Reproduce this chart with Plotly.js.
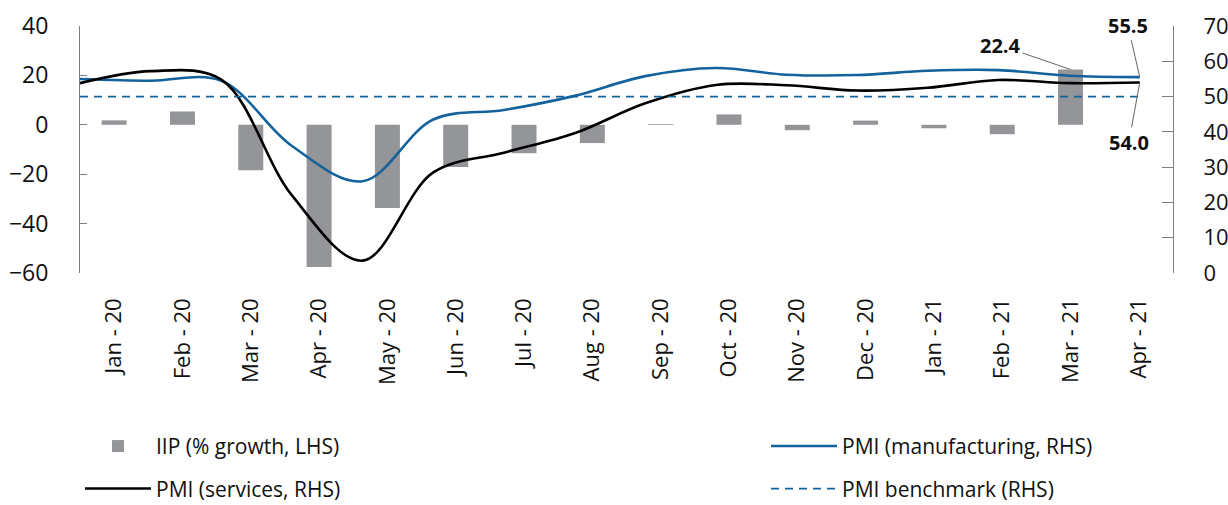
<!DOCTYPE html>
<html>
<head>
<meta charset="utf-8">
<script src="https://cdn.plot.ly/plotly-3.0.1.min.js"></script>
<style>
html,body{margin:0;padding:0;background:#fff;}
#chart{width:1228px;height:505px;}
</style>
</head>
<body>
<div id="chart"></div>
<script>
// Month categories
const months = ['Jan - 20','Feb - 20','Mar - 20','Apr - 20','May - 20','Jun - 20','Jul - 20','Aug - 20',
                'Sep - 20','Oct - 20','Nov - 20','Dec - 20','Jan - 21','Feb - 21','Mar - 21','Apr - 21'];
// IIP % growth (LHS)
const iipGrowth = [1.8, 5.4, -18.4, -57.6, -33.7, -17.1, -11.5, -7.4, 0.3, 4.2, -2.2, 1.7, -1.4, -3.8, 22.4, null];
// PMI manufacturing (RHS)
const pmiManufacturing = [55.0, 54.5, 54.5, 36.0, 26.0, 43.5, 46.2, 50.2, 55.8, 58.1, 56.2, 56.1, 57.3, 57.5, 55.9, 55.5];
// PMI services (RHS)
const pmiServices = [53.8, 57.2, 54.8, 22.0, 3.5, 28.5, 34.1, 39.6, 48.1, 53.3, 53.2, 51.7, 52.5, 54.7, 53.8, 54.0];
// PMI benchmark (RHS)
const pmiBenchmark = [50, 50, 50, 50, 50, 50, 50, 50, 50, 50, 50, 50, 50, 50, 50, 50];
// Axis ticks
const leftTicks = [-60, -40, -20, 0, 20, 40];
const rightTicks = [0, 10, 20, 30, 40, 50, 60, 70];

const FONT = 'Open Sans, Noto Sans, sans-serif';
const BLUE = '#13629b';
const GREY_BAR = '#939598';
const AXIS = '#7f7f7f';
const TXT = '#111111';

const traces = [
  {type:'bar', x: months, y: iipGrowth, name:'IIP (% growth, LHS)', marker:{color:GREY_BAR},
   xaxis:'x', yaxis:'y', legend:'legend', legendwidth:605},
  {type:'scatter', mode:'lines', x: months, y: pmiManufacturing, name:'PMI (manufacturing, RHS)',
   line:{color:BLUE, width:2.6, shape:'spline', smoothing:1}, xaxis:'x2', yaxis:'y2', legend:'legend', legendwidth:300},
  {type:'scatter', mode:'lines', x: months, y: pmiServices, name:'PMI (services, RHS)',
   line:{color:'#000000', width:2.6, shape:'spline', smoothing:1}, xaxis:'x2', yaxis:'y2', legend:'legend2', legendwidth:605},
  {type:'scatter', mode:'lines', x: months, y: pmiBenchmark, name:'PMI benchmark (RHS)',
   line:{color:BLUE, width:1.8, dash:'8px,6px'}, xaxis:'x2', yaxis:'y2', legend:'legend2', legendwidth:300}
];

const legendCommon = {
  orientation:'h', x:0.0, xanchor:'left', yanchor:'middle',
  itemwidth:66,
  font:{family:FONT, size:21, color:TXT}, bgcolor:'rgba(0,0,0,0)', traceorder:'normal'
};

const layout = {
  width:1228, height:505,
  margin:{l:80, r:55, t:26, b:232, autoexpand:false},
  paper_bgcolor:'#ffffff', plot_bgcolor:'#ffffff',
  font:{family:FONT, color:TXT},
  bargap:0.634,
  showlegend:true,
  legend: Object.assign({}, legendCommon, {y:-0.702}),
  legend2: Object.assign({}, legendCommon, {y:-0.874}),
  xaxis:{type:'category', categoryarray: months, range:[-0.5, 15.5], showline:false, ticks:'',
         tickangle:-90, tickfont:{family:FONT, size:22, color:TXT}, ticklabelstandoff:20,
         showgrid:false, zeroline:false, fixedrange:true, automargin:false},
  xaxis2:{type:'category', categoryarray: months, overlaying:'x', range:[0, 15.47], visible:false, fixedrange:true},
  xaxis3:{type:'linear', overlaying:'x', anchor:'free', position:0.6025, range:[-0.5, 15.5],
          showline:true, linecolor:AXIS, linewidth:1, ticks:'outside', ticklen:10, tickcolor:AXIS, tickwidth:1,
          tickmode:'array', tickvals:[0.5,1.5,2.5,3.5,4.5,5.5,6.5,7.5,8.5,9.5,10.5,11.5,12.5,13.5],
          showticklabels:false, showgrid:false, zeroline:false, fixedrange:true},
  yaxis:{range:[-60, 40], tickmode:'array', tickvals: leftTicks, showline:true, linecolor:AXIS, linewidth:1,
         ticks:'inside', ticklen:7, tickcolor:AXIS, tickwidth:1, showgrid:false, zeroline:false,
         tickfont:{family:FONT, size:23, color:TXT}, ticklabelstandoff:26, fixedrange:true},
  yaxis2:{range:[0, 70], overlaying:'y', side:'right', tickmode:'array', tickvals: rightTicks,
          showline:true, linecolor:AXIS, linewidth:1, ticks:'inside', ticklen:11, tickcolor:AXIS, tickwidth:1,
          showgrid:false, zeroline:false, tickfont:{family:FONT, size:22, color:TXT}, ticklabelstandoff:25, fixedrange:true},
  annotations:[
    {xref:'x', yref:'y', x: months[14], y: iipGrowth[14], text:'<b>' + iipGrowth[14].toFixed(1) + '</b>',
     showarrow:true, arrowhead:0, arrowwidth:1, arrowcolor:'#666', ax:-70, ay:-24,
     font:{family:FONT, size:20, color:TXT}},
    {xref:'x2', yref:'y2', x: months[15], y: pmiManufacturing[15], text:'<b>' + pmiManufacturing[15].toFixed(1) + '</b>',
     showarrow:true, arrowhead:0, arrowwidth:1, arrowcolor:'#666', ax:-12, ay:-52,
     font:{family:FONT, size:20, color:TXT}},
    {xref:'x2', yref:'y2', x: months[15], y: pmiServices[15], text:'<b>' + pmiServices[15].toFixed(1) + '</b>',
     showarrow:true, arrowhead:0, arrowwidth:1, arrowcolor:'#666', ax:-11, ay:60,
     font:{family:FONT, size:20, color:TXT}}
  ]
};

Plotly.newPlot('chart', traces, layout, {displayModeBar:false, staticPlot:true});
</script>
</body>
</html>
